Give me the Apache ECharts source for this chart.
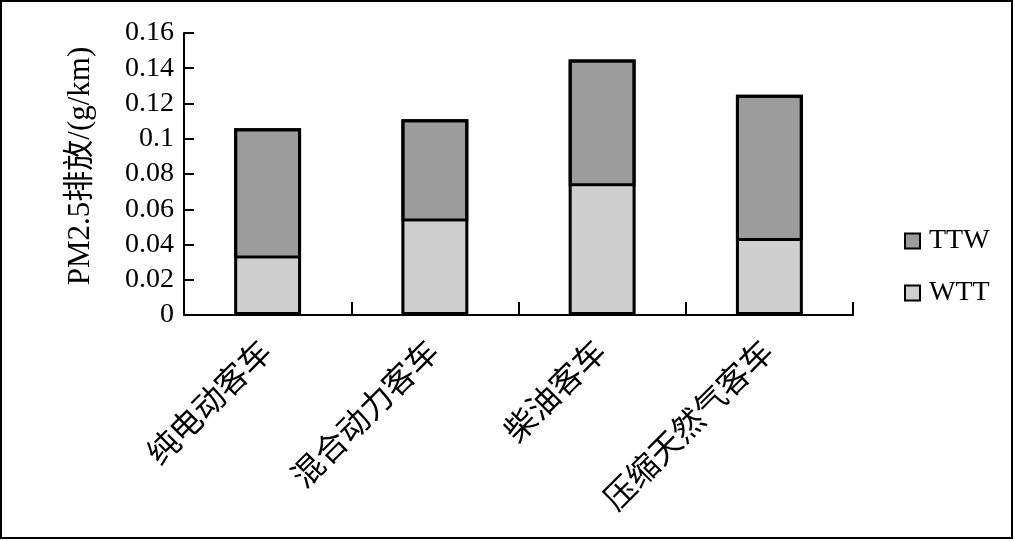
<!DOCTYPE html>
<html><head><meta charset="utf-8">
<script src="https://cdn.jsdelivr.net/npm/echarts@6/dist/echarts.min.js"></script>
<style>html,body{margin:0;padding:0;background:#fff}#c{width:1015px;height:541px}</style>
</head><body><div id="c"></div>
<script>
const categories = ['纯电动客车', '混合动力客车', '柴油客车', '压缩天然气客车'];
const wtt = [0.032, 0.053, 0.073, 0.042];
const ttw = [0.074, 0.058, 0.072, 0.083];
const yTicks = ['0', '0.02', '0.04', '0.06', '0.08', '0.1', '0.12', '0.14', '0.16'];

const totals = wtt.map((v, i) => +(v + ttw[i]).toFixed(4));
const serif = '"Liberation Serif", "Times New Roman", "Noto Sans CJK SC", serif';
const chart = echarts.init(document.getElementById('c'));
chart.setOption({
  animation: false,
  backgroundColor: '#fff',
  textStyle: { fontFamily: serif, color: '#000' },
  grid: { left: 184, right: 162, top: 33, bottom: 226 },
  legend: {
    orient: 'vertical', left: 899, top: 222, itemGap: 24,
    itemWidth: 15, itemHeight: 15, icon: 'rect',
    data: ['TTW', 'WTT'],
    itemStyle: { borderColor: '#000', borderWidth: 2 },
    textStyle: { fontFamily: serif, fontSize: 28, color: '#000', padding: [0, 0, 0, 4] }
  },
  xAxis: {
    type: 'category', data: categories,
    axisLine: { lineStyle: { color: '#000', width: 2 } },
    axisTick: { show: true, inside: true, length: 13, lineStyle: { color: '#000', width: 2 } },
    axisLabel: { rotate: 45, margin: 33, fontSize: 32, color: '#000', fontFamily: serif }
  },
  yAxis: {
    type: 'value', min: 0, max: 0.16, interval: 0.02,
    name: 'PM2.5排放/(g/km)', nameLocation: 'middle', nameRotate: 90, nameGap: 88,
    nameTextStyle: { fontSize: 31, color: '#000', fontFamily: serif, padding: [0, 0, 0, 16] },
    splitLine: { show: false },
    axisLine: { show: true, lineStyle: { color: '#000', width: 2 } },
    axisTick: { show: true, inside: true, length: 10, lineStyle: { color: '#000', width: 2 } },
    axisLabel: { fontSize: 28, color: '#000', margin: 10, fontFamily: serif,
      formatter: function (v) { return yTicks[Math.round(v / 0.02)]; } }
  },
  series: [
    { name: 'WTT', type: 'bar', stack: 'a', data: wtt, barWidth: '40%',
      itemStyle: { color: '#cfcfcf', borderColor: '#000', borderWidth: 0 } },
    { name: 'TTW', type: 'bar', stack: 'a', data: ttw, barWidth: '40%',
      itemStyle: { color: '#9c9c9c', borderColor: '#000', borderWidth: 3 } },
    { name: 'outline', type: 'bar', data: totals, barWidth: '40%', barGap: '-100%', silent: true,
      itemStyle: { color: 'rgba(0,0,0,0)', borderColor: '#000', borderWidth: 3 }, z: 5 }
  ],
  graphic: [{ type: 'rect', shape: { x: 1, y: 1, width: 1011, height: 537 },
    style: { fill: 'none', stroke: '#000', lineWidth: 2 }, silent: true }]
});
</script></body></html>
